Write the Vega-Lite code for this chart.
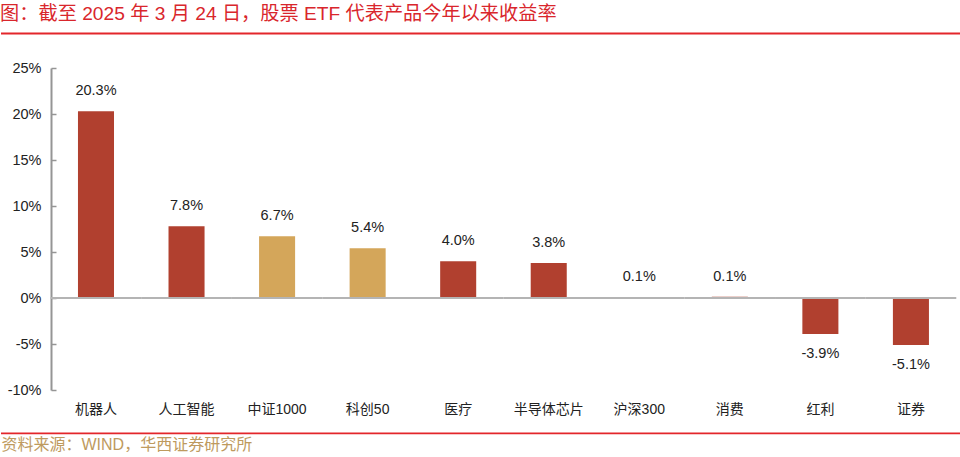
{
  "$schema": "https://vega.github.io/schema/vega-lite/v6.json",
  "width": 960,
  "height": 322,
  "autosize": {"type": "pad"},
  "padding": {"top": 5, "left": 0, "right": 0, "bottom": 0},
  "background": "white",
  "config": {
    "view": {"stroke": null},
    "font": "Liberation Sans, Noto Sans CJK SC"
  },
  "title": {
    "text": "图：截至 2025 年 3 月 24 日，股票 ETF 代表产品今年以来收益率",
    "anchor": "start",
    "color": "#D9262C",
    "fontSize": 19.2,
    "fontWeight": "normal",
    "font": "Liberation Sans, Noto Sans CJK SC",
    "offset": 8
  },
  "data": {
    "values": [
      {"name": "机器人", "v": 0.203, "kind": "主题"},
      {"name": "人工智能", "v": 0.078, "kind": "主题"},
      {"name": "中证1000", "v": 0.067, "kind": "宽基"},
      {"name": "科创50", "v": 0.054, "kind": "宽基"},
      {"name": "医疗", "v": 0.040, "kind": "主题"},
      {"name": "半导体芯片", "v": 0.038, "kind": "主题"},
      {"name": "沪深300", "v": 0.001, "kind": "宽基"},
      {"name": "消费", "v": 0.0014, "kind": "主题"},
      {"name": "红利", "v": -0.039, "kind": "主题"},
      {"name": "证券", "v": -0.051, "kind": "主题"}
    ]
  },
  "resolve": {"axis": {"y": "independent"}},
  "layer": [
    {
      "transform": [{"calculate": "replace(format(datum.v, '.1%'), '\u2212', '-')", "as": "label"}],
      "encoding": {
        "x": {
          "field": "name",
          "type": "nominal",
          "sort": null,
          "scale": {"paddingInner": 0.602, "paddingOuter": 0.602, "align": 0.706},
          "axis": {
            "orient": "bottom",
            "domain": false,
            "ticks": false,
            "labelAngle": 0,
            "labelFontSize": 14,
            "labelColor": "#222222",
            "labelPadding": 12,
            "title": "资料来源：WIND，华西证券研究所",
            "titleAnchor": "start",
            "titleAlign": "left",
            "titleColor": "#BE9A5E",
            "titleFontSize": 16,
            "titleFontWeight": "normal",
            "titlePadding": 20
          }
        },
        "y": {
          "field": "v",
          "type": "quantitative",
          "scale": {"domain": [-0.1, 0.25], "nice": false, "zero": false},
          "axis": {
            "orient": "left",
            "offset": -50,
            "values": [-0.1, -0.05, 0, 0.05, 0.1, 0.15, 0.2, 0.25],
            "format": ".0%",
            "labelExpr": "replace(datum.label, '\u2212', '-')",
            "domain": true,
            "ticks": false,
            "domainColor": "#959595",
            "domainWidth": 2,
            "domainOpacity": 1,
            "labelPadding": 10,
            "labelFontSize": 14.5,
            "labelColor": "#222222",
            "grid": false,
            "title": null
          }
        }
      },
      "layer": [
        {
          "mark": {"type": "bar"},
          "encoding": {
            "color": {
              "field": "kind",
              "type": "nominal",
              "scale": {"domain": ["主题", "宽基"], "range": ["#B1402F", "#D4A65A"]},
              "legend": null
            }
          }
        },
        {
          "mark": {"type": "tick", "color": "#B4B4B4", "thickness": 2, "size": 90.7, "opacity": 1},
          "encoding": {"y": {"datum": 0, "type": "quantitative"}}
        },
        {
          "transform": [{"filter": "datum.v >= 0"}],
          "mark": {"type": "text", "baseline": "middle", "dy": -20, "fontSize": 14.5, "color": "#222222"},
          "encoding": {"text": {"field": "label", "type": "nominal"}}
        },
        {
          "transform": [{"filter": "datum.v < 0"}],
          "mark": {"type": "text", "baseline": "middle", "dy": 20, "fontSize": 14.5, "color": "#222222"},
          "encoding": {"text": {"field": "label", "type": "nominal"}}
        }
      ]
    },
    {
      "mark": {"type": "point", "opacity": 0},
      "encoding": {
        "x": {"field": "name", "type": "nominal", "sort": null},
        "y": {
          "field": "v",
          "type": "quantitative",
          "axis": {
            "orient": "right",
            "offset": -910,
            "values": [-0.1, -0.05, 0, 0.05, 0.1, 0.15, 0.2, 0.25],
            "labels": false,
            "domain": false,
            "ticks": true,
            "tickSize": 5,
            "tickColor": "#959595",
            "tickWidth": 1.5,
            "grid": false,
            "title": null
          }
        }
      }
    },
    {
      "data": {"values": [{"a": 1}]},
      "mark": {"type": "rule", "color": "#E3262B", "strokeWidth": 1.8},
      "encoding": {"y": {"datum": 0.2875, "type": "quantitative", "axis": null}}
    },
    {
      "data": {"values": [{"a": 1}]},
      "mark": {"type": "rule", "color": "#E3262B", "strokeWidth": 1.8},
      "encoding": {"y": {"datum": -0.1471, "type": "quantitative", "axis": null}}
    }
  ]
}
